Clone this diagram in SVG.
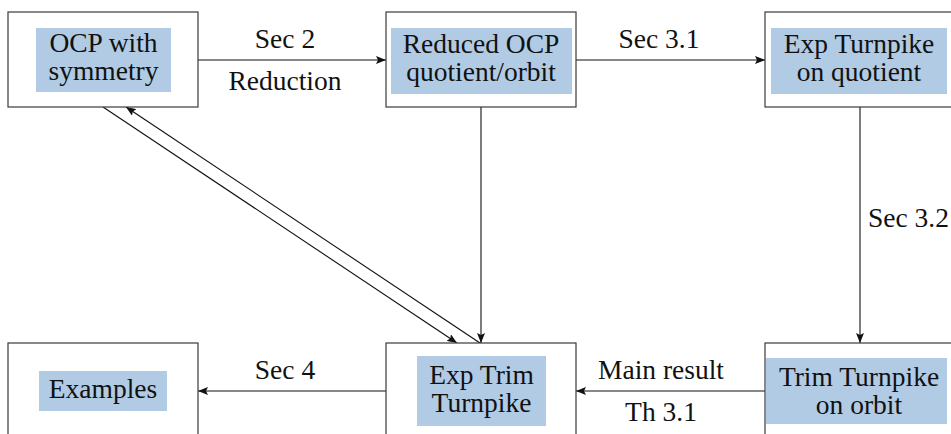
<svg xmlns="http://www.w3.org/2000/svg" width="951" height="434" viewBox="0 0 951 434" font-family="Liberation Serif, DejaVu Serif, serif">
<style>
.box{fill:#fff;stroke:#3a3a3a;stroke-width:1.2}
.lab{fill:#b1cbe5}
text{font-size:27.5px;fill:#111}
.c{text-anchor:middle}
.e{stroke:#111;stroke-width:1.1;fill:none;marker-end:url(#ah)}
</style>
<defs>
<marker id="ah" viewBox="0 0 10 8" refX="10" refY="4" markerWidth="10" markerHeight="8" markerUnits="userSpaceOnUse" orient="auto">
<path d="M0,0 L10,4 L0,8 L2,4 Z" fill="#111"/>
</marker>
</defs>
<rect width="951" height="434" fill="#fff"/>
<g id="connectors">
<line class="e" x1="198" y1="60" x2="386" y2="60"/>
<line class="e" x1="576" y1="60" x2="765" y2="60"/>
<line class="e" x1="481" y1="107" x2="481" y2="343"/>
<line class="e" x1="860" y1="107" x2="860" y2="343"/>
<line class="e" x1="765" y1="391" x2="576" y2="391"/>
<line class="e" x1="386" y1="391" x2="198" y2="391"/>
<line class="e" x1="103" y1="107" x2="457" y2="343"/>
<line class="e" x1="480" y1="343" x2="126" y2="107"/>
<text class="c" x="285" y="48">Sec 2</text>
<text class="c" x="285" y="90">Reduction</text>
<text class="c" x="659" y="48">Sec 3.1</text>
<text x="868" y="227">Sec 3.2</text>
<text class="c" x="661" y="379">Main result</text>
<text class="c" x="661" y="421">Th 3.1</text>
<text class="c" x="285" y="379">Sec 4</text>
</g>
<g id="n1">
<rect class="box" x="8" y="12" width="190" height="95"/>
<rect class="lab" x="36" y="28" width="135" height="64"/>
<text class="c" x="103.5" y="52">OCP with</text>
<text class="c" x="103.5" y="80">symmetry</text>
</g>
<g id="n2">
<rect class="box" x="386" y="12" width="190" height="95"/>
<rect class="lab" x="391" y="28" width="181" height="66"/>
<text class="c" x="481" y="53">Reduced OCP</text>
<text class="c" x="481" y="81">quotient/orbit</text>
</g>
<g id="n3">
<rect class="box" x="765" y="12" width="190" height="95"/>
<rect class="lab" x="771" y="28" width="176" height="66"/>
<text class="c" x="859" y="53">Exp Turnpike</text>
<text class="c" x="859" y="81">on quotient</text>
</g>
<g id="n4">
<rect class="box" x="8" y="343" width="190" height="95"/>
<rect class="lab" x="39" y="371" width="128" height="40"/>
<text class="c" x="103" y="398">Examples</text>
</g>
<g id="n5">
<rect class="box" x="386" y="343" width="190" height="95"/>
<rect class="lab" x="417" y="356" width="129" height="70"/>
<text class="c" x="481.5" y="384">Exp Trim</text>
<text class="c" x="481.5" y="412">Turnpike</text>
</g>
<g id="n6">
<rect class="box" x="765" y="343" width="190" height="95"/>
<rect class="lab" x="766" y="358" width="181" height="66"/>
<text class="c" x="859" y="386">Trim Turnpike</text>
<text class="c" x="859" y="414">on orbit</text>
</g>
</svg>
